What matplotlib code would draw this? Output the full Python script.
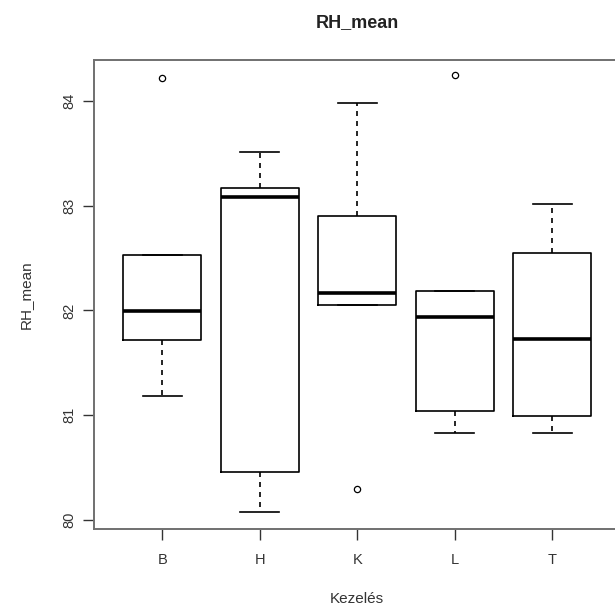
import matplotlib
matplotlib.use("Agg")
import matplotlib.pyplot as plt

plt.rcParams['font.family'] = ['Liberation Sans', 'DejaVu Sans']

# box statistics
groups = ['B', 'H', 'K', 'L', 'T']
whislo = [81.18, 80.08, 82.05, 80.83, 80.83]
q1 = [81.72, 80.46, 82.05, 81.04, 80.99]
med = [81.99, 83.08, 82.17, 81.94, 81.73]
q3 = [82.53, 83.17, 82.90, 82.19, 82.55]
whishi = [82.53, 83.51, 83.98, 82.19, 83.02]
fliers = [[84.22], [], [80.30], [84.25], []]

stats = []
for i, g in enumerate(groups):
    stats.append(dict(label=g, whislo=whislo[i], q1=q1[i], med=med[i],
                      q3=q3[i], whishi=whishi[i], fliers=fliers[i]))

W, H = 615, 609
fig = plt.figure(figsize=(W / 100, H / 100), dpi=100)
# plot region runs past the right edge of the picture (cropped original)
ax = fig.add_axes([94 / W, (H - 529) / H, 526.5 / W, 469 / H])

ax.bxp(stats, positions=range(1, 6), widths=0.8, patch_artist=False,
       boxprops=dict(color='black', linewidth=1.2),
       medianprops=dict(color='black', linewidth=2.6, solid_capstyle='butt'),
       whiskerprops=dict(color='black', linewidth=1.2, linestyle=(0, (3, 3))),
       capprops=dict(color='black', linewidth=1.2),
       capwidths=0.4,
       flierprops=dict(marker='o', markersize=4.5, markerfacecolor='none',
                       markeredgecolor='black', markeredgewidth=0.9))

ax.set_xlim(0.3, 5.7)
ax.set_ylim(79.914, 84.39)
ax.set_yticks([80, 81, 82, 83, 84])
ax.set_yticklabels(['80', '81', '82', '83', '84'], rotation=90, va='center')
ax.set_xticks(range(1, 6))
ax.set_xticklabels(groups)

for s in ax.spines.values():
    s.set_color('#707070')
    s.set_linewidth(1.4)

ax.tick_params(axis='both', direction='out', length=8, width=1.0,
               color='#333333', labelcolor='#333333', labelsize=10.5)
ax.tick_params(axis='y', pad=5)
ax.tick_params(axis='x', pad=9)

ax.set_title('RH_mean', fontsize=13, fontweight='bold', color='#222222', pad=24)
ax.set_xlabel('Kezelés', fontsize=11, color='#333333', labelpad=18)
ax.set_ylabel('RH_mean', fontsize=11, color='#333333', labelpad=21)

fig.savefig('out.png', dpi=100)
